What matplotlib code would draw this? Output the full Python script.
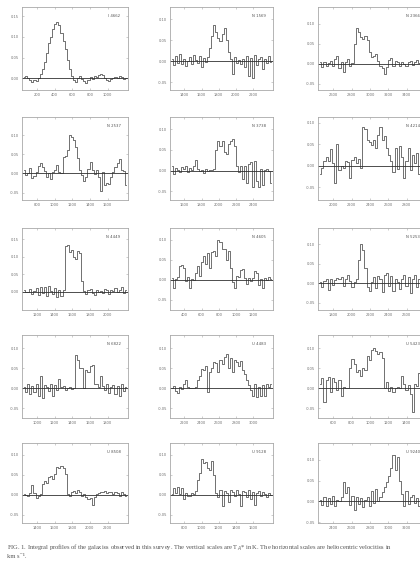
import numpy as np
import matplotlib
matplotlib.use('Agg')
import matplotlib.pyplot as plt

# galaxy labels, one per panel (row by row)
names = ['I 4662', 'N 1569', 'N 2366', 'N 2537', 'N 3738', 'N 4214',
         'N 4449', 'N 4605', 'N 5253', 'N 6822', 'U 4483', 'U 5423',
         'U 8508', 'U 9128', 'U 9240']

# x tick velocities (km/s) for each panel
vticks = [
    [200, 400, 600, 800, 1000], [1400, 1600, 1800, 2000, 2200], [2600, 2800, 3000, 3200, 3400],
    [800, 1000, 1200, 1400, 1600], [1600, 1800, 2000, 2200, 2400], [2000, 2200, 2400, 2600, 2800],
    [1200, 1400, 1600, 1800, 2000], [400, 600, 800, 1000, 1200], [1800, 2000, 2200, 2400, 2600],
    [1000, 1200, 1400, 1600, 1800], [2200, 2400, 2600, 2800, 3000], [600, 800, 1000, 1200, 1400],
    [1400, 1600, 1800, 2000, 2200], [800, 1000, 1200, 1400, 1600], [2400, 2600, 2800, 3000, 3200],
]

# y ticks (K) and limits
tticks = [
    [0, 0.05, 0.10, 0.15], [-0.05, 0, 0.05, 0.10], [-0.05, 0, 0.05, 0.10],
    [-0.05, 0, 0.05, 0.10], [-0.05, 0, 0.05, 0.10], [-0.05, 0, 0.05, 0.10],
    [0, 0.05, 0.10, 0.15], [-0.05, 0, 0.05, 0.10], [-0.05, 0, 0.05, 0.10],
    [-0.05, 0, 0.05, 0.10], [-0.05, 0, 0.05, 0.10], [-0.05, 0, 0.05, 0.10],
    [-0.05, 0, 0.05, 0.10], [-0.05, 0, 0.05, 0.10], [-0.05, 0, 0.05, 0.10],
]
tlims = [
    (-0.028, 0.172), (-0.069, 0.129), (-0.065, 0.142),
    (-0.069, 0.147), (-0.071, 0.129), (-0.080, 0.113),
    (-0.053, 0.183), (-0.075, 0.129), (-0.069, 0.142),
    (-0.074, 0.133), (-0.074, 0.133), (-0.074, 0.133),
    (-0.070, 0.129), (-0.070, 0.129), (-0.052, 0.141),
]

# antenna temperature per channel (50 channels each)
t01 = [0.004, 0.006, 0.002, -0.004, -0.008, -0.003, -0.006, 0.000, 0.010, 0.022,
       0.040, 0.062, 0.085, 0.100, 0.118, 0.130, 0.137, 0.128, 0.110, 0.090,
       0.070, 0.045, 0.022, 0.006, -0.004, -0.008, 0.002, 0.006, -0.002, -0.006,
       -0.010, -0.004, 0.004, -0.002, 0.005, 0.003, 0.008, 0.010, 0.007, 0.002,
       -0.004, -0.006, -0.002, 0.000, 0.004, 0.002, 0.006, 0.003, -0.002, 0.002]
t02 = [0.005, -0.010, 0.012, -0.005, 0.018, -0.008, 0.004, -0.012, 0.000, 0.010,
       -0.006, 0.015, 0.002, -0.004, 0.012, -0.015, 0.008, -0.002, 0.010, 0.030,
       0.060, 0.085, 0.070, 0.055, 0.048, 0.065, 0.078, 0.050, 0.022, 0.005,
       -0.030, 0.010, -0.004, 0.002, -0.008, 0.006, -0.015, 0.012, -0.035, 0.008,
       -0.040, 0.015, -0.010, 0.004, 0.010, -0.020, 0.006, -0.005, 0.012, -0.002]
t03 = [0.004, -0.008, 0.006, -0.004, 0.002, 0.008, -0.006, 0.012, 0.020, -0.010,
       0.006, -0.020, 0.004, 0.012, -0.004, 0.002, 0.050, 0.090, 0.080, 0.068,
       0.062, 0.070, 0.060, 0.030, 0.018, 0.020, 0.026, 0.008, -0.004, -0.010,
       -0.025, -0.008, 0.010, 0.016, -0.004, 0.008, 0.004, -0.006, 0.006, 0.000,
       -0.004, 0.004, 0.008, -0.002, 0.004, 0.010, 0.002, -0.004, 0.012, 0.004]
t04 = [0.010, -0.004, 0.002, 0.015, -0.012, -0.006, 0.004, 0.020, 0.028, 0.018,
       0.006, -0.010, 0.002, -0.014, 0.004, 0.010, 0.022, 0.004, 0.002, 0.042,
       0.045, 0.060, 0.100, 0.095, 0.088, 0.070, 0.040, 0.010, -0.004, -0.020,
       -0.008, 0.012, 0.030, 0.008, -0.002, 0.010, -0.010, -0.045, 0.004, -0.030,
       -0.026, -0.028, -0.010, 0.004, 0.018, 0.026, 0.038, 0.010, 0.006, -0.030]
t05 = [0.010, -0.008, 0.006, 0.002, -0.004, 0.008, 0.004, 0.010, -0.004, 0.006,
       0.002, 0.012, 0.025, 0.004, 0.000, 0.002, -0.006, 0.004, 0.000, 0.002,
       0.002, 0.004, 0.050, 0.070, 0.060, 0.072, 0.045, 0.040, 0.065, 0.070,
       0.075, 0.060, 0.010, -0.004, 0.012, -0.020, 0.010, -0.030, 0.015, 0.020,
       -0.040, 0.022, -0.025, -0.040, 0.004, -0.035, 0.002, 0.004, 0.000, -0.030]
t06 = [-0.020, -0.005, 0.010, 0.020, 0.010, 0.038, 0.005, -0.040, 0.050, -0.010,
       0.000, -0.005, 0.010, 0.008, -0.030, 0.012, 0.020, 0.005, 0.015, -0.005,
       0.090, 0.085, 0.060, 0.055, 0.048, 0.060, 0.040, 0.072, 0.090, 0.060,
       0.068, 0.040, 0.025, 0.010, -0.015, 0.040, -0.008, 0.045, 0.020, -0.030,
       0.010, 0.040, -0.010, 0.025, 0.005, 0.030, -0.020, 0.010, 0.015, 0.000]
t07 = [0.004, 0.000, -0.002, 0.008, -0.006, 0.002, 0.010, -0.010, 0.014, -0.004,
       0.012, -0.012, 0.016, 0.002, -0.008, 0.010, -0.015, 0.004, -0.014, 0.006,
       0.130, 0.135, 0.115, 0.120, 0.100, 0.095, 0.118, 0.110, 0.030, 0.002,
       -0.006, 0.004, 0.008, -0.004, -0.010, 0.004, 0.000, 0.002, -0.004, 0.008,
       0.006, -0.006, 0.004, 0.002, 0.010, -0.002, 0.006, 0.012, -0.004, 0.006]
t08 = [0.004, -0.020, 0.002, 0.008, 0.035, 0.036, 0.030, -0.004, 0.006, -0.020,
       0.002, 0.000, 0.018, 0.034, 0.010, 0.045, 0.060, 0.040, 0.068, 0.030,
       0.070, 0.072, 0.060, 0.100, 0.095, 0.078, 0.076, 0.050, 0.072, 0.030,
       -0.005, -0.020, 0.010, 0.006, 0.025, 0.026, 0.004, -0.010, 0.004, -0.004,
       0.004, 0.022, 0.018, -0.012, 0.002, -0.020, 0.004, 0.000, 0.006, 0.002]
t09 = [0.002, -0.010, 0.006, 0.012, -0.018, 0.010, -0.004, 0.008, 0.014, 0.010,
       0.016, -0.006, 0.012, 0.020, 0.006, -0.010, 0.004, 0.010, 0.060, 0.100,
       0.085, 0.040, -0.010, -0.020, 0.004, 0.015, -0.012, 0.018, 0.010, -0.022,
       0.020, 0.025, -0.006, 0.018, -0.020, 0.012, 0.004, -0.015, 0.010, 0.020,
       -0.008, 0.015, -0.025, 0.010, 0.022, -0.010, 0.012, 0.006, -0.004, 0.008]
t10 = [0.004, -0.008, 0.010, -0.014, 0.006, -0.010, 0.012, -0.018, 0.030, -0.025,
       0.008, 0.004, -0.006, 0.012, -0.020, 0.008, -0.004, 0.024, 0.004, 0.006,
       -0.004, 0.002, 0.004, -0.002, 0.002, 0.083, 0.070, 0.050, 0.050, 0.002,
       0.045, 0.040, 0.055, 0.058, 0.010, 0.012, 0.004, 0.030, 0.006, -0.004,
       0.010, -0.012, 0.004, 0.008, -0.014, 0.006, -0.018, 0.010, -0.006, 0.004]
t11 = [0.002, 0.006, -0.006, -0.012, 0.004, -0.002, 0.010, 0.020, 0.004, 0.000,
       0.002, 0.000, 0.004, 0.020, 0.030, 0.048, 0.045, 0.055, -0.010, 0.040,
       0.050, 0.065, 0.062, 0.040, 0.070, 0.060, 0.078, 0.085, 0.050, 0.075,
       0.040, 0.070, 0.065, 0.055, 0.068, 0.045, 0.035, 0.020, 0.008, -0.004,
       -0.020, 0.010, -0.022, 0.004, -0.018, 0.008, -0.020, 0.012, 0.004, 0.010]
t12 = [0.010, 0.025, -0.035, 0.020, 0.028, -0.010, 0.026, 0.015, -0.005, 0.022,
       -0.020, 0.004, 0.002, 0.000, 0.050, 0.072, 0.060, 0.040, 0.045, 0.030,
       0.050, 0.045, 0.080, 0.070, 0.095, 0.100, 0.092, 0.085, 0.090, 0.075,
       0.002, 0.015, -0.006, 0.004, -0.008, 0.002, 0.004, 0.000, 0.030, 0.010,
       -0.004, 0.008, -0.015, -0.060, 0.010, 0.005, 0.038, 0.020, -0.004, 0.006]
t13 = [0.002, 0.000, -0.002, 0.004, 0.024, 0.004, -0.008, -0.004, 0.002, 0.026,
       0.034, 0.030, 0.044, 0.046, 0.040, 0.052, 0.070, 0.068, 0.072, 0.066,
       0.052, 0.002, -0.004, 0.006, 0.010, 0.004, 0.012, 0.008, -0.002, 0.002,
       -0.006, -0.010, -0.008, -0.024, -0.006, 0.002, 0.004, 0.008, 0.006, 0.010,
       0.004, 0.008, 0.006, 0.002, 0.008, 0.004, -0.002, 0.006, 0.002, -0.004]
t14 = [0.002, 0.018, 0.004, 0.020, 0.002, 0.018, -0.010, 0.004, -0.004, -0.002,
       0.004, 0.002, 0.010, 0.038, 0.055, 0.090, 0.080, 0.082, 0.068, 0.062,
       0.085, 0.050, 0.004, -0.006, 0.012, -0.028, 0.010, 0.004, -0.018, 0.012,
       0.006, -0.004, 0.012, 0.002, -0.028, 0.010, 0.006, -0.006, 0.012, -0.010,
       0.008, -0.026, 0.004, 0.010, -0.004, 0.006, 0.002, -0.006, 0.004, 0.000]
t15 = [0.004, -0.008, 0.010, -0.012, 0.008, -0.006, 0.012, -0.010, 0.004, 0.002,
       0.010, 0.048, 0.020, 0.036, -0.008, 0.012, -0.020, 0.010, -0.006, 0.008,
       -0.014, 0.004, 0.010, -0.010, 0.026, -0.004, 0.030, 0.002, 0.010, 0.022,
       0.036, 0.048, 0.062, 0.080, 0.112, 0.075, 0.108, 0.050, 0.018, -0.010,
       0.024, -0.006, 0.010, 0.016, -0.004, 0.008, -0.012, 0.010, 0.004, -0.002]
profiles = [t01, t02, t03, t04, t05, t06, t07, t08, t09, t10, t11, t12, t13, t14, t15]

caption1 = ('FIG. 1. Integral profiles of the galaxies observed in this survey. The vertical scales are '
            'T$_A$* in K. The horizontal scales are heliocentric velocities in')
caption2 = 'km s\u207b\u00b9.'

W, H = 420, 562
fig = plt.figure(figsize=(W / 100, H / 100), dpi=100)

# panel frames in pixels: left, right / top, bottom
cols = [(22, 128), (170, 273), (318, 428)]
rows = [(7, 90), (117, 200), (228, 310), (335, 418), (443, 523)]

line_c = '#4a4a4a'
frame_c = '#a8a8a8'
text_c = '#707070'

for k in range(15):
    r, c = divmod(k, 3)
    x0, x1 = cols[c]
    y0, y1 = rows[r]
    ax = fig.add_axes([x0 / W, 1 - y1 / H, (x1 - x0) / W, (y1 - y0) / H])

    tk = vticks[k]
    d = tk[1] - tk[0]
    lo = tk[0] - 0.84 * d
    hi = lo + 6.0 * d
    n = len(profiles[k])
    dv = (hi - lo) / (n + 1)
    vel = lo + dv * (np.arange(n) + 1)

    ax.step(vel, profiles[k], where='mid', color=line_c, lw=0.55)
    ax.axhline(0, color='#2f2f2f', lw=0.6)
    ax.set_xlim(lo, hi)
    ax.set_ylim(*tlims[k])
    ax.set_xticks(tk)
    ax.set_yticks(tticks[k])
    ax.set_xticklabels([str(t) for t in tk])
    ax.set_yticklabels(['%.2f' % t for t in tticks[k]])
    ax.tick_params(labelsize=2.6, labelcolor=text_c, color=frame_c, length=1.5,
                   width=0.4, pad=2.2, direction='in', top=True, right=True)
    for s in ax.spines.values():
        s.set_color(frame_c)
        s.set_linewidth(0.6)
    ax.text(0.93, 0.91, names[k], transform=ax.transAxes, ha='right', va='top',
            fontsize=2.8, color='#555555')

cap_font = ['Liberation Serif', 'DejaVu Serif']
fig.text(7 / W, 1 - 548 / H, caption1, fontsize=4.7, color='#555555', va='center', ha='left',
         family=cap_font)
fig.text(7 / W, 1 - 556 / H, caption2, fontsize=4.7, color='#555555', va='center', ha='left',
         family=cap_font)

fig.savefig('out.png', dpi=100, facecolor='white')
